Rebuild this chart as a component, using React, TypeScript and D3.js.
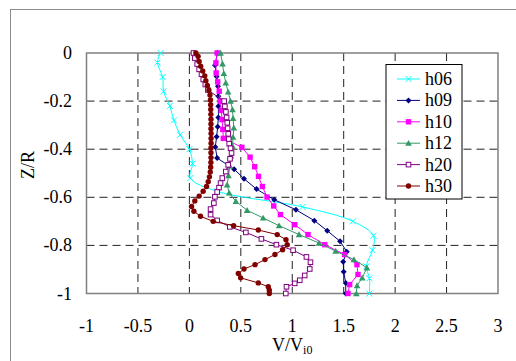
import React from "react";
import * as d3 from "d3";

// values: [V/Vi0, Z/R]
const h06 = [
  [-0.28, 0], [-0.31, -0.04], [-0.26, -0.1], [-0.25, -0.16], [-0.19, -0.22], [-0.15, -0.28],
  [-0.09, -0.34], [0.0, -0.4], [0.03, -0.46], [0.01, -0.52], [0.27, -0.575], [1.1, -0.64],
  [1.59, -0.7], [1.79, -0.76], [1.78, -0.82], [1.72, -0.887], [1.75, -0.937], [1.75, -1],
];
const h09 = [
  [0.272, 0], [0.249, -0.051], [0.265, -0.098], [0.278, -0.138], [0.282, -0.18], [0.282, -0.221],
  [0.282, -0.268], [0.275, -0.307], [0.265, -0.348], [0.252, -0.391], [0.27, -0.437], [0.435, -0.483],
  [0.531, -0.523], [0.653, -0.566], [0.825, -0.61], [1.036, -0.652], [1.215, -0.697], [1.34, -0.739],
  [1.465, -0.783], [1.53, -0.826], [1.495, -0.868], [1.5, -0.91], [1.52, -0.956], [1.52, -1],
];
const h10 = [
  [0.27, 0], [0.258, -0.041], [0.26, -0.083], [0.275, -0.12], [0.29, -0.159], [0.3, -0.2],
  [0.31, -0.239], [0.318, -0.277], [0.325, -0.318], [0.33, -0.355], [0.51, -0.392], [0.59, -0.433],
  [0.635, -0.473], [0.672, -0.513], [0.71, -0.555], [0.755, -0.599], [0.82, -0.636], [0.885, -0.672],
  [1.024, -0.714], [1.153, -0.755], [1.316, -0.797], [1.51, -0.838], [1.629, -0.88], [1.639, -0.921],
  [1.558, -0.963], [1.542, -1],
];
const h12 = [
  [0.303, 0], [0.322, -0.045], [0.335, -0.085], [0.354, -0.124], [0.377, -0.162], [0.4, -0.2],
  [0.419, -0.235], [0.425, -0.272], [0.432, -0.311], [0.425, -0.35], [0.419, -0.387], [0.405, -0.428],
  [0.393, -0.47], [0.38, -0.51], [0.367, -0.548], [0.387, -0.582], [0.452, -0.617], [0.561, -0.654],
  [0.717, -0.686], [0.872, -0.718], [1.066, -0.755], [1.26, -0.79], [1.422, -0.824], [1.6, -0.859],
  [1.726, -0.893], [1.68, -0.935], [1.63, -0.967], [1.623, -1],
];
const h20 = [
  [0.04, 0], [0.053, -0.021], [0.076, -0.046], [0.095, -0.068], [0.118, -0.088], [0.135, -0.11],
  [0.155, -0.131], [0.18, -0.154], [0.338, -0.2], [0.345, -0.222], [0.355, -0.245], [0.362, -0.268],
  [0.368, -0.29], [0.372, -0.313], [0.378, -0.336], [0.383, -0.358], [0.387, -0.377], [0.4, -0.396],
  [0.41, -0.416], [0.395, -0.44], [0.377, -0.465], [0.354, -0.493], [0.32, -0.52], [0.303, -0.541],
  [0.288, -0.56], [0.27, -0.578], [0.248, -0.598], [0.238, -0.624], [0.206, -0.649], [0.206, -0.672],
  [0.27, -0.696], [0.393, -0.723], [0.549, -0.746], [0.7, -0.773], [0.846, -0.797], [1.008, -0.82],
  [1.138, -0.848], [1.177, -0.87], [1.17, -0.898], [1.121, -0.925], [1.073, -0.945], [1.024, -0.958],
  [0.944, -0.972], [0.937, -1],
];
const h30 = [
  [0.063, 0], [0.085, -0.014], [0.095, -0.035], [0.11, -0.055], [0.13, -0.075], [0.15, -0.095],
  [0.16, -0.115], [0.175, -0.135], [0.19, -0.155], [0.2, -0.175], [0.205, -0.195], [0.207, -0.215],
  [0.208, -0.235], [0.209, -0.255], [0.21, -0.275], [0.21, -0.295], [0.21, -0.315], [0.211, -0.335],
  [0.211, -0.355], [0.211, -0.375], [0.21, -0.395], [0.21, -0.415], [0.21, -0.435], [0.209, -0.455],
  [0.207, -0.475], [0.203, -0.495], [0.195, -0.515], [0.183, -0.535], [0.167, -0.555], [0.134, -0.575],
  [0.095, -0.595], [0.053, -0.615], [0.021, -0.638], [0.044, -0.658], [0.108, -0.679], [0.231, -0.7],
  [0.43, -0.718], [0.67, -0.736], [0.854, -0.755], [0.939, -0.776], [0.951, -0.797], [0.906, -0.818],
  [0.832, -0.838], [0.735, -0.859], [0.638, -0.88], [0.531, -0.898], [0.476, -0.917], [0.498, -0.935],
  [0.67, -0.956], [0.767, -0.972], [0.777, -0.986], [0.777, -1],
];

const xTicks = [-1, -0.5, 0, 0.5, 1, 1.5, 2, 2.5, 3];
const yTicks = [0, -0.2, -0.4, -0.6, -0.8, -1];

const series = [
  { name: "h06", data: h06, color: "#00FFFF", marker: "cross", smooth: true },
  { name: "h09", data: h09, color: "#000080", marker: "diamond", smooth: false },
  { name: "h10", data: h10, color: "#FF00FF", marker: "square", smooth: false },
  { name: "h12", data: h12, color: "#339966", marker: "triangle", smooth: false },
  { name: "h20", data: h20, color: "#800080", marker: "open", smooth: false },
  { name: "h30", data: h30, color: "#800000", marker: "circle", smooth: false },
];

const Marker = ({ type, x, y, color }) => {
  if (type === "cross") {
    const s = 3;
    return (
      <path
        d={`M${x - s},${y - s}L${x + s},${y + s}M${x - s},${y + s}L${x + s},${y - s}`}
        stroke={color}
        strokeWidth={1}
      />
    );
  }
  if (type === "diamond") {
    const s = 3;
    return <path d={`M${x},${y - s}L${x + s},${y}L${x},${y + s}L${x - s},${y}Z`} fill={color} />;
  }
  if (type === "square") return <rect x={x - 2.7} y={y - 2.7} width={5.4} height={5.4} fill={color} />;
  if (type === "triangle") {
    const s = 3.3;
    return <path d={`M${x},${y - s}L${x + s},${y + s * 0.8}L${x - s},${y + s * 0.8}Z`} fill={color} />;
  }
  if (type === "open")
    return <rect x={x - 2.3} y={y - 2.3} width={4.6} height={4.6} fill="white" stroke={color} strokeWidth={1} />;
  return <circle cx={x} cy={y} r={2.7} fill={color} />;
};

export default function App() {
  const W = 516;
  const H = 361;
  const left = 86.5;
  const right = 498;
  const top = 53;
  const bottom = 293.5;

  const x = d3.scaleLinear().domain([-1, 3]).range([left, right]);
  const y = d3.scaleLinear().domain([0, -1]).range([top, bottom]);

  const txt = { fontFamily: "'Liberation Serif', 'DejaVu Serif', serif", fontSize: "18px" };

  const legendX = 386;
  const legendY = 64.5;
  const rowH = 21.4;

  return (
    <svg width={W} height={H} style={{ position: "absolute", left: 0, top: 0, background: "white" }}>
      <rect x={10.5} y={9.5} width={600} height={400} fill="white" stroke="#8c8c8c" strokeWidth={1} />

      {/* grid */}
      {xTicks.slice(1, -1).map((t) => (
        <line key={"gx" + t} x1={x(t)} x2={x(t)} y1={top} y2={bottom} stroke="#222" strokeDasharray="8,5" />
      ))}
      {yTicks.slice(1, -1).map((t) => (
        <line key={"gy" + t} x1={left} x2={right} y1={y(t)} y2={y(t)} stroke="#222" strokeDasharray="8,5" />
      ))}
      <rect x={left} y={top} width={right - left} height={bottom - top} fill="none" stroke="#808080" strokeWidth={1.5} />

      {/* series */}
      {series.map((s) => {
        const line = d3
          .line()
          .x((d) => x(d[0]))
          .y((d) => y(d[1]))
          .curve(s.smooth ? d3.curveCatmullRom.alpha(0.5) : d3.curveLinear);
        return (
          <g key={s.name}>
            <path d={line(s.data)} fill="none" stroke={s.color} strokeWidth={1} />
            {s.data.map((d, i) => (
              <Marker key={i} type={s.marker} x={x(d[0])} y={y(d[1])} color={s.color} />
            ))}
          </g>
        );
      })}

      {/* tick labels */}
      {yTicks.map((t) => (
        <text key={"yl" + t} x={72} y={y(t) + 6} textAnchor="end" style={txt}>
          {t}
        </text>
      ))}
      {xTicks.map((t) => (
        <text key={"xl" + t} x={x(t)} y={332} textAnchor="middle" style={txt}>
          {t}
        </text>
      ))}

      {/* axis titles */}
      <text transform="translate(34,165) rotate(-90)" textAnchor="middle" style={txt}>
        Z/R
      </text>
      <text x={(left + right) / 2} y={351} textAnchor="middle" style={txt}>
        V/V
        <tspan style={{ fontSize: "12px" }} dy={3}>
          i0
        </tspan>
      </text>

      {/* legend */}
      <rect x={legendX} y={legendY} width={76} height={134.5} fill="white" stroke="#000" strokeWidth={1} />
      {series.map((s, i) => {
        const cy = legendY + 14.5 + i * rowH;
        return (
          <g key={"lg" + s.name}>
            <line x1={397} x2={420} y1={cy} y2={cy} stroke={s.color} strokeWidth={1} />
            <Marker type={s.marker} x={408.5} y={cy} color={s.color} />
            <text x={425} y={cy + 6} style={txt}>
              {s.name}
            </text>
          </g>
        );
      })}
    </svg>
  );
}
